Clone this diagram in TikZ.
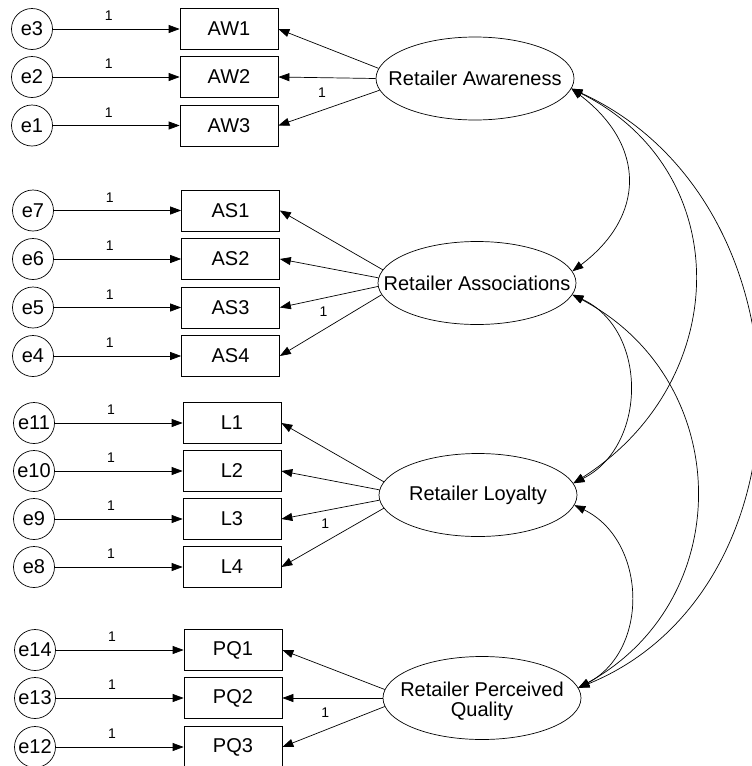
\documentclass[tikz,border=0pt]{standalone}
\usepackage{fontspec}
\setmainfont{Liberation Sans}
\usetikzlibrary{shapes.geometric,arrows.meta}
\newcommand\zerowd[1]{\makebox[0pt]{#1}}
\tikzset{
  err/.style={circle,draw,line width=0.7pt,minimum size=41pt,inner sep=0pt,font=\fontsize{20}{22}\selectfont},
  obs/.style={rectangle,draw,line width=0.7pt,minimum width=98pt,minimum height=41pt,inner sep=0pt,font=\fontsize{20}{22}\selectfont},
  lat/.style={ellipse,draw,line width=0.7pt,minimum width=198pt,minimum height=83pt,inner sep=0pt,font=\fontsize{20}{21}\selectfont},
  pth/.style={-{Triangle[length=11pt,width=8pt]},line width=0.7pt},
  cov/.style={{Triangle[length=11pt,width=8pt]}-{Triangle[length=11pt,width=8pt]},line width=0.7pt},
  lbl/.style={font=\fontsize{14}{14}\selectfont,inner sep=0pt}
}
\begin{document}
\begin{tikzpicture}[x=1pt,y=-1pt]
\useasboundingbox (0,0) rectangle (752,766);
% latent variables
\node[lat] (RA)  at (475,78.5) {\zerowd{Retailer Awareness}};
\node[lat] (RAs) at (477,283) {\zerowd{Retailer Associations}};
\node[lat] (RL)  at (478,495) {\zerowd{Retailer Loyalty}};
\node[lat] (RPQ) at (482,698) {\zerowd{\raisebox{-9pt}[0pt][0pt]{\begin{tabular}{@{}c@{}}Retailer Perceived\\[-1pt]Quality\end{tabular}}}};
% observed
\node[obs] (AW1) at (229,29) {AW1};
\node[obs] (AW2) at (229,77) {AW2};
\node[obs] (AW3) at (229,125.5) {AW3};
\node[obs] (AS1) at (230.5,210.5) {AS1};
\node[obs] (AS2) at (230.5,259) {AS2};
\node[obs] (AS3) at (230.5,307.5) {AS3};
\node[obs] (AS4) at (230.5,356) {AS4};
\node[obs] (L1) at (232,423) {L1};
\node[obs] (L2) at (232,471) {L2};
\node[obs] (L3) at (232,519) {L3};
\node[obs] (L4) at (232,567) {L4};
\node[obs] (PQ1) at (233,650) {PQ1};
\node[obs] (PQ2) at (233,698) {PQ2};
\node[obs] (PQ3) at (233,747) {PQ3};
% errors
\node[err] (e3) at (32,29) {e3};
\node[err] (e2) at (32,77) {e2};
\node[err] (e1) at (32,125.5) {e1};
\node[err] (e7) at (33,210.5) {e7};
\node[err] (e6) at (33,259) {e6};
\node[err] (e5) at (33,307.5) {e5};
\node[err] (e4) at (33,356) {e4};
\node[err] (e11) at (34,423) {e11};
\node[err] (e10) at (34,471) {e10};
\node[err] (e9) at (34,519) {e9};
\node[err] (e8) at (34,567) {e8};
\node[err] (e14) at (35,650) {e14};
\node[err] (e13) at (35,698) {e13};
\node[err] (e12) at (35,747) {e12};
% error paths
\foreach \e/\o in {e3/AW1,e2/AW2,e1/AW3,e7/AS1,e6/AS2,e5/AS3,e4/AS4,e11/L1,e10/L2,e9/L3,e8/L4,e14/PQ1,e13/PQ2,e12/PQ3}
  \draw[pth] (\e.east) -- node[lbl,pos=0.44,above=8pt] {1} (\o.west);
% loadings
\draw[pth] (RA.174) -- (AW1.east);
\draw[pth] (RA.180) -- (AW2.east);
\draw[pth] (RA.187) -- node[lbl,pos=0.57,above=12pt] {1} (AW3.east);
\draw[pth] (RAs.172) -- (AS1.east);
\draw[pth] (RAs.177) -- (AS2.east);
\draw[pth] (RAs.182) -- (AS3.east);
\draw[pth] (RAs.187) -- node[lbl,pos=0.57,above=13pt] {1} (AS4.east);
\draw[pth] (RL.172) -- (L1.east);
\draw[pth] (RL.177) -- (L2.east);
\draw[pth] (RL.183) -- (L3.east);
\draw[pth] (RL.188) -- node[lbl,pos=0.57,above=13pt] {1} (L4.east);
\draw[pth] (RPQ.175) -- (PQ1.east);
\draw[pth] (RPQ.180) -- (PQ2.east);
\draw[pth] (RPQ.185) -- node[lbl,pos=0.58,above=12pt] {1} (PQ3.east);
% covariances
\draw[cov] (RA.-6) .. controls +(75,57) and +(73,-55) .. (RAs.7);
\draw[cov] (RA.-6) .. controls +(165,82) and +(160,-102) .. (RL.7.5);
\draw[cov] (RA.-6) .. controls +(245,112) and +(240,-98) .. (RPQ.6);
\draw[cov] (RAs.-7) .. controls +(76,35) and +(74,-37) .. (RL.7.5);
\draw[cov] (RAs.-7) .. controls +(162,85) and +(160,-88) .. (RPQ.6);
\draw[cov] (RL.-6) .. controls +(72,35) and +(72,-38) .. (RPQ.6);
\end{tikzpicture}
\end{document}
